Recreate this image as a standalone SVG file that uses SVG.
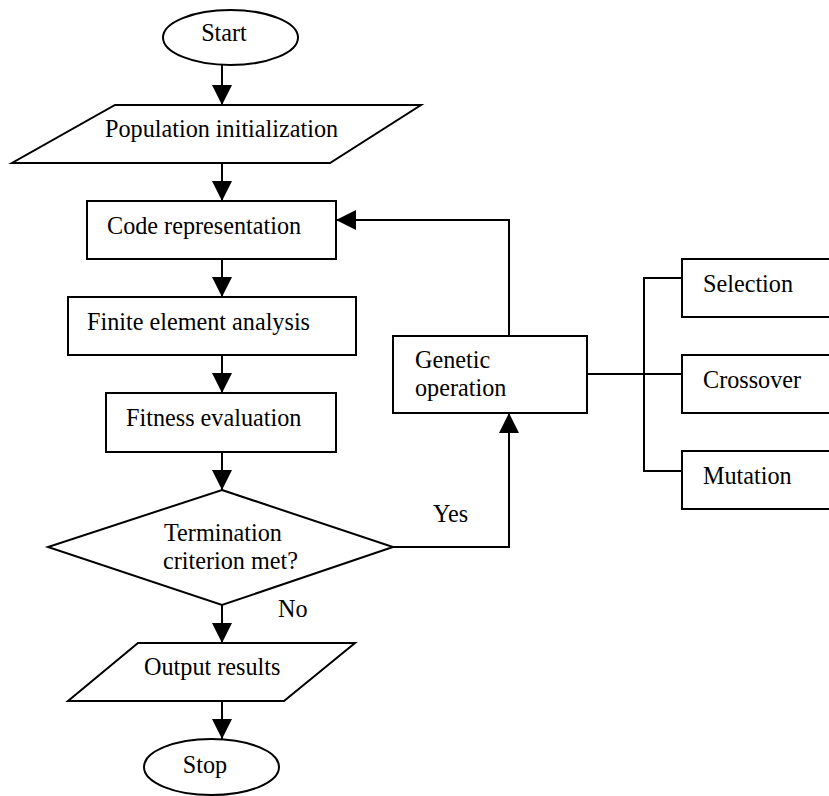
<svg xmlns="http://www.w3.org/2000/svg" width="829" height="796" viewBox="0 0 829 796">
<style>
.s{fill:#fff;stroke:#000;stroke-width:2}
.t{font-family:"Liberation Serif","Times New Roman",serif;font-size:24.2px;fill:#000}
.c{fill:none;stroke:#000;stroke-width:2}
</style>
<defs>
<marker id="ah" markerUnits="userSpaceOnUse" markerWidth="20" markerHeight="20" refX="20" refY="10" orient="auto" viewBox="0 0 20 20">
<path d="M0,0 L20,10 L0,20 z" fill="#000"/>
</marker>
</defs>
<rect width="829" height="796" fill="#fff"/>
<g id="start"><ellipse class="s" cx="230.5" cy="37.5" rx="67.5" ry="27.5"/><text class="t" x="224" y="41" text-anchor="middle">Start</text></g>
<g id="init"><polygon class="s" points="115,105 421,105 330,163 12,163"/><text class="t" x="105" y="137">Population initialization</text></g>
<g id="code"><rect class="s" x="87" y="201" width="249" height="58"/><text class="t" x="107" y="234">Code representation</text></g>
<g id="fea"><rect class="s" x="68" y="297" width="288" height="58"/><text class="t" x="87" y="330">Finite element analysis</text></g>
<g id="fitness"><rect class="s" x="106" y="393" width="230" height="59"/><text class="t" x="126" y="426">Fitness evaluation</text></g>
<g id="term"><polygon class="s" points="222,490 393,547 222,605 48,547"/><text class="t" x="164" y="541">Termination</text><text class="t" x="163" y="569">criterion met?</text></g>
<g id="output"><polygon class="s" points="138,643 355,643 284,701 68,701"/><text class="t" x="144" y="675">Output results</text></g>
<g id="stop"><ellipse class="s" cx="211.5" cy="767" rx="67.5" ry="28"/><text class="t" x="205" y="773" text-anchor="middle">Stop</text></g>
<g id="genetic"><rect class="s" x="393" y="336" width="194" height="77"/><text class="t" x="415" y="368">Genetic</text><text class="t" x="415" y="396">operation</text></g>
<g id="selection"><rect class="s" x="682" y="259" width="160" height="58"/><text class="t" x="703" y="292">Selection</text></g>
<g id="crossover"><rect class="s" x="682" y="355" width="160" height="58"/><text class="t" x="703" y="388">Crossover</text></g>
<g id="mutation"><rect class="s" x="682" y="451" width="160" height="58"/><text class="t" x="703" y="484">Mutation</text></g>
<g id="connectors">
<line class="c" x1="222" y1="65" x2="222" y2="105" marker-end="url(#ah)"/>
<line class="c" x1="222" y1="163" x2="222" y2="201" marker-end="url(#ah)"/>
<line class="c" x1="222" y1="259" x2="222" y2="297" marker-end="url(#ah)"/>
<line class="c" x1="222" y1="355" x2="222" y2="393" marker-end="url(#ah)"/>
<line class="c" x1="222" y1="452" x2="222" y2="490" marker-end="url(#ah)"/>
<line class="c" x1="222" y1="605" x2="222" y2="643" marker-end="url(#ah)"/>
<line class="c" x1="222" y1="701" x2="222" y2="739" marker-end="url(#ah)"/>
<polyline class="c" points="393,547 509,547 509,413" marker-end="url(#ah)"/>
<polyline class="c" points="509,336 509,220 336,220" marker-end="url(#ah)"/>
<line class="c" x1="587" y1="374" x2="682" y2="374"/>
<polyline class="c" points="682,278 644,278 644,471 682,471"/>
<text class="t" x="433" y="522">Yes</text>
<text class="t" x="278" y="617">No</text>
</g>
</svg>
